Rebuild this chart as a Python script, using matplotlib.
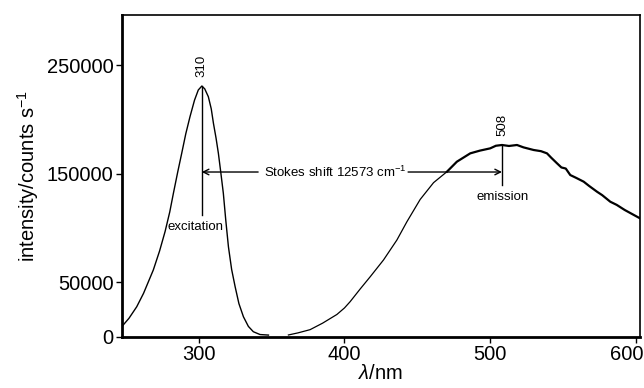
import matplotlib
matplotlib.use('Agg')
import matplotlib.pyplot as plt
import matplotlib.transforms as mtransforms

plt.rcParams['font.family'] = ['Liberation Sans', 'DejaVu Sans']
plt.rcParams['mathtext.fontset'] = 'custom'
plt.rcParams['mathtext.rm'] = 'Liberation Sans'
plt.rcParams['mathtext.it'] = 'Liberation Sans:italic'

# Excitation spectrum
exc_wl = [247.0, 252.0, 257.3, 262.0, 268.7, 273.0, 276.8, 280.0, 282.5, 285.5,
          288.2, 291.0, 293.9, 297.0, 299.6, 302.0, 304.0, 306.5, 308.5, 310.0,
          311.8, 313.4, 315.0, 316.8, 318.5, 320.3, 322.5, 324.9, 327.5, 330.6,
          334.0, 337.4, 342.0, 347.8]
exc_int = [9200, 17000, 27600, 40000, 61500, 79000, 97000, 115000, 132200, 152000,
           169000, 187000, 202800, 218000, 227400, 231000, 228500, 221200, 210000, 196700,
           183000, 169000, 152000, 132200, 107000, 82900, 62000, 46100, 30500, 18400,
           9500, 4600, 2000, 1500]

# Emission spectrum
em_wl = [361.5, 368.0, 376.4, 385.0, 394.8, 400.0, 403.9, 410.8, 417.7, 426.8,
         436.0, 442.9, 452.0, 461.2, 470.4, 477.2, 486.4, 493.0, 500.1, 504.0,
         508.2, 513.0, 518.5, 523.0, 529.9, 535.0, 539.1, 542.0, 546.0, 549.0,
         552.0, 555.1, 559.0, 564.3, 568.0, 573.5, 577.0, 582.6, 587.0, 592.5,
         597.0, 603.0]
em_int = [1600, 3500, 6500, 12500, 20500, 26500, 32300, 44000, 55300, 70700,
          89100, 106000, 126500, 142000, 152100, 161300, 169000, 171500, 173600, 176000,
          176700, 175800, 176700, 174500, 172100, 171000, 169000, 165000, 159800, 156000,
          155000, 149000, 146500, 142900, 139000, 133600, 130500, 124400, 121500, 116800,
          113500, 109100]

exc_peak = 302.0
em_peak = 508.2

fig = plt.figure(figsize=(6.44, 3.88), dpi=100)
ax = fig.add_axes([0.189, 0.1322, 0.8048, 0.8291])

ax.plot(exc_wl, exc_int, color='black', lw=1.0)
split = 14
ax.plot(em_wl[:split + 1], em_int[:split + 1], color='black', lw=0.9)
ax.plot(em_wl[split:], em_int[split:], color='black', lw=1.6)

# peak markers
ax.plot([exc_peak, exc_peak], [231000, 112200], color='black', lw=1.0)
ax.plot([em_peak, em_peak], [176700, 139800], color='black', lw=1.0)
ax.text(exc_peak, 249500, '310', rotation=90, ha='center', va='center', fontsize=9.5)
ax.text(em_peak, 195000, '508', rotation=90, ha='center', va='center', fontsize=9.5)
ax.text(297.8, 101400, 'excitation', ha='center', va='center', fontsize=9.5)
ax.text(508.3, 129000, 'emission', ha='center', va='center', fontsize=9.5)

# Stokes shift arrows
y_arr = 151800
ax.annotate('', xy=(exc_peak, y_arr), xytext=(340.7, y_arr),
            arrowprops=dict(arrowstyle='->', lw=1.0, color='black', shrinkA=0, shrinkB=0))
ax.annotate('', xy=(em_peak, y_arr), xytext=(443.7, y_arr),
            arrowprops=dict(arrowstyle='->', lw=1.0, color='black', shrinkA=0, shrinkB=0))
ax.text(393.5, y_arr, 'Stokes shift 12573 cm$^{-1}$', ha='center', va='center', fontsize=9.5)

ax.set_xlim(247, 603)
ax.set_ylim(0, 296500)
ax.set_xticks([300, 400, 500, 600])
ax.set_yticks([0, 50000, 150000, 250000])
ax.set_yticklabels(['0', '50000', '150000', '250000'])
ax.tick_params(direction='out', length=4, width=1, labelsize=14.5, pad=2)

# keep the last x label inside the figure
last = ax.get_xticklabels()[-1]
last.set_transform(last.get_transform() +
                   mtransforms.ScaledTranslation(-9 / 100, 0, fig.dpi_scale_trans))

ax.spines['left'].set_linewidth(2.0)
ax.spines['bottom'].set_linewidth(2.0)
ax.spines['top'].set_linewidth(1.2)
ax.spines['right'].set_linewidth(1.2)

ax.set_xlabel(r'$\lambda$/nm', fontsize=14.5, labelpad=0)
ax.set_ylabel('intensity/counts s$^{-1}$', fontsize=14.5, labelpad=4)

plt.savefig('out.png', dpi=100)
